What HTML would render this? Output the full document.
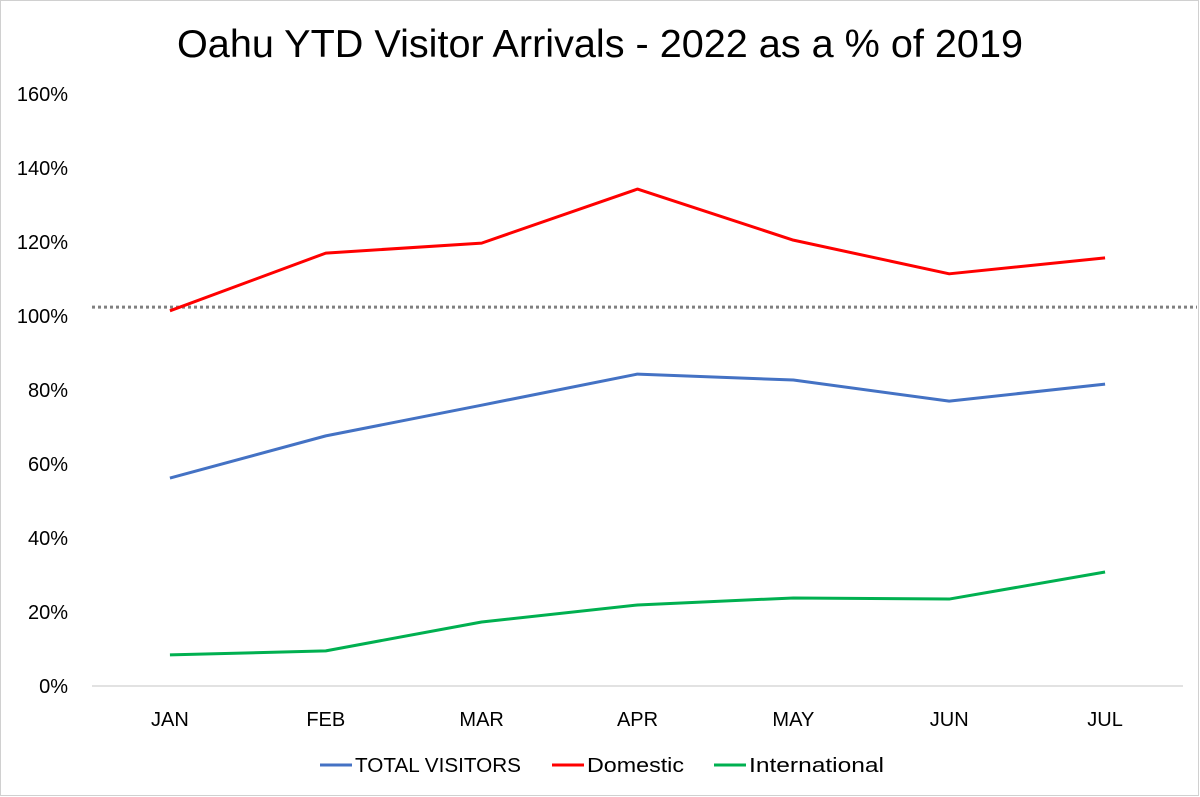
<!DOCTYPE html>
<html><head><meta charset="utf-8"><style>
html,body{margin:0;padding:0;background:#fff;}
svg{display:block;font-family:"Liberation Sans",Calibri,sans-serif;}
</style></head><body>
<svg id="chart" width="1200" height="797" viewBox="0 0 1200 797">
<rect x="0.5" y="0.5" width="1198" height="795" fill="#fff" stroke="#d0d0d0"/>
<text x="600" y="57" text-anchor="middle" font-size="39" fill="#000" textLength="846" lengthAdjust="spacingAndGlyphs">Oahu YTD Visitor Arrivals - 2022 as a % of 2019</text>
<g id="plot"></g>
<g>
<g><line x1="320" y1="765" x2="352" y2="765" stroke="#4472C4" stroke-width="3"/><text x="355" y="772" font-size="20" textLength="166" lengthAdjust="spacingAndGlyphs">TOTAL VISITORS</text></g>
<g><line x1="552" y1="765" x2="584" y2="765" stroke="#FF0000" stroke-width="3"/><text x="587" y="772" font-size="20" textLength="97" lengthAdjust="spacingAndGlyphs">Domestic</text></g>
<g><line x1="714" y1="765" x2="746" y2="765" stroke="#00B050" stroke-width="3"/><text x="749" y="772" font-size="20" textLength="135" lengthAdjust="spacingAndGlyphs">International</text></g>
</g>
</svg>
<script>
const categories=["JAN","FEB","MAR","APR","MAY","JUN","JUL"];
const totalVisitors=[56.2,67.6,75.9,84.3,82.7,77.0,81.6];
const domestic=[101.4,117.0,119.7,134.3,120.5,111.4,115.7];
const international=[8.4,9.5,17.3,21.9,23.8,23.5,30.8];
const yTicks=[0,20,40,60,80,100,120,140,160];
const referenceLine=102.4;
const NS="http://www.w3.org/2000/svg";
const g=document.getElementById('plot');
const x0=92,x1=1183,y0=686,y1=94;
const band=(x1-x0)/categories.length;
function xs(i){return x0+band*(i+0.5);}
function ys(v){return y0-(v/160)*(y0-y1);}
function mk(t,a){const e=document.createElementNS(NS,t);for(const k in a)e.setAttribute(k,a[k]);g.appendChild(e);return e;}
yTicks.forEach(v=>{
  const t=mk('text',{x:68,y:ys(v)+7,'text-anchor':'end','font-size':20,fill:'#000'});
  t.textContent=v+'%';
  
  
});
const ax=mk('line',{x1:x0,y1:y0,x2:x1,y2:y0,stroke:'#d9d9d9','stroke-width':1.5});


categories.forEach((c,i)=>{
  const t=mk('text',{x:xs(i),y:726,'text-anchor':'middle','font-size':20,fill:'#000'});
  t.textContent=c;
  
  
});
const rl=mk('line',{x1:x0,y1:ys(referenceLine),x2:1197,y2:ys(referenceLine),stroke:'#808080','stroke-width':3,'stroke-dasharray':'3 3'});


function series(vals,color,name){
  const p=mk('polyline',{points:vals.map((v,i)=>xs(i)+','+ys(v)).join(' '),fill:'none',stroke:color,'stroke-width':3,'stroke-linejoin':'round'});
  
  
}
series(totalVisitors,'#4472C4','total-visitors-line');
series(domestic,'#FF0000','domestic-line');
series(international,'#00B050','international-line');
</script>
</body></html>
